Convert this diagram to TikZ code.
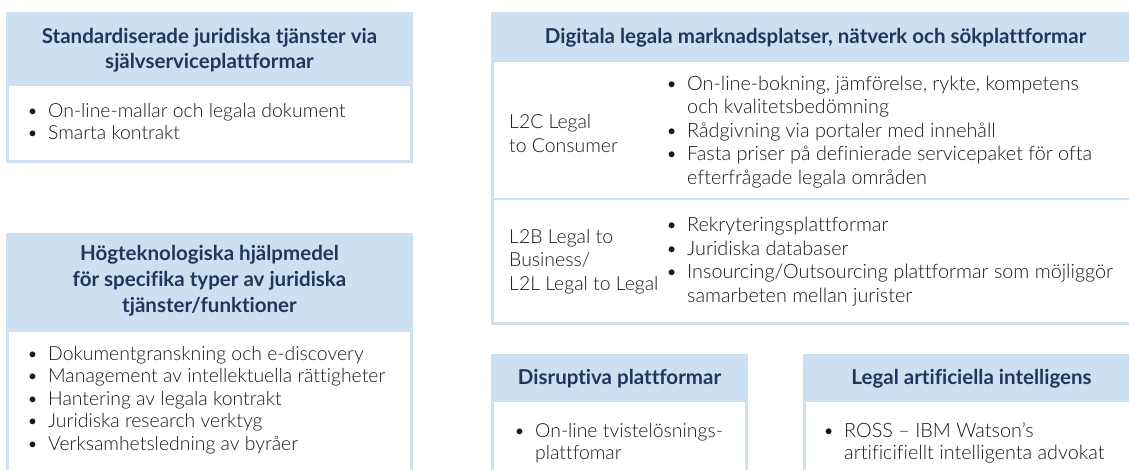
\documentclass[tikz,border=0pt]{standalone}
\usepackage{fontspec}
\setmainfont{Lato}[Ligatures=NoCommon]
\newfontfamily\lightfont{Lato Light}[Ligatures=NoCommon]
\newfontfamily\regfont{Lato}
\definecolor{hdr}{RGB}{204,224,242}
\definecolor{navy}{RGB}{30,55,90}
\definecolor{txt}{RGB}{25,25,25}
\newcommand\bul{\hspace*{-4pt}\makebox[20pt][l]{\raisebox{1pt}{\scalebox{0.8}{\regfont\textbullet}}}}
\newcommand\ind{\hspace*{16pt}}
\begin{document}
\begin{tikzpicture}[x=1pt,y=-1pt,
  frame/.style={draw=hdr,line width=3pt},
  sepline/.style={draw=hdr,line width=1.5pt},
  htext/.style={font=\fontsize{20.5}{25}\selectfont\bfseries, text=navy, align=center, inner sep=0},
  btext/.style={font=\lightfont\fontsize{19.4}{22.5}\selectfont, text=txt, align=left, inner sep=0, anchor=west},
  ctext/.style={font=\lightfont\fontsize{19.8}{23.5}\selectfont, text=txt, align=left, inner sep=0, anchor=west}]
\useasboundingbox (0,0) rectangle (1129,470);
% Box A
\fill[hdr] (6,12) rectangle (413,86);
\draw[frame] (7.5,13.5) rectangle (411.5,161.5);
\node[htext] (ah) at (209.5,50.5) {Standardiserade juridiska tjänster via\\självserviceplattformar};
\node[btext] (ab) at (32,121.5) {\bul On-line-mallar och legala dokument\\\bul Smarta kontrakt};
% Box B
\fill[hdr] (6,233) rectangle (413,332);
\draw[frame] (7.5,480) -- (7.5,234.5) -- (411.5,234.5) -- (411.5,480);
\node[htext,font=\fontsize{20.5}{26}\selectfont\bfseries] (bh) at (209.5,281) {Högteknologiska hjälpmedel\\för specifika typer av juridiska\\tjänster/funktioner};
\node[btext] (bb) at (32,400) {\bul Dokumentgranskning och e-discovery\\\bul Management av intellektuella rättigheter\\\bul Hantering av legala kontrakt\\\bul Juridiska research verktyg\\\bul Verksamhetsledning av byråer};
% Box C
\fill[hdr] (491,12) rectangle (1140,62);
\draw[frame] (1140,13.5) -- (492.5,13.5) -- (492.5,323.5) -- (1140,323.5);
\draw[sepline] (491,199) -- (1140,199);
\node[htext] (ch) at (815.5,37.5) {Digitala legala marknadsplatser, nätverk och sökplattformar};
\node[ctext,font=\lightfont\fontsize{19.4}{23.5}\selectfont] (cl1) at (509,133.5) {L2C Legal\\to Consumer};
\node[ctext] (cb1) at (671,132) {\bul On-line-bokning, jämförelse, rykte, kompetens\\\ind och kvalitetsbedömning\\\bul Rådgivning via portaler med innehåll\\\bul Fasta priser på definierade servicepaket för ofta\\\ind efterfrågade legala områden};
\node[ctext,font=\lightfont\fontsize{19.4}{23.5}\selectfont] (cl2) at (509,261.5) {L2B Legal to\\Business/\\L2L Legal to Legal};
\node[ctext] (cb2) at (671,261.5) {\bul Rekryteringsplattformar\\\bul Juridiska databaser\\\bul Insourcing/Outsourcing plattformar som möjliggör\\\ind samarbeten mellan jurister};
% Box D
\fill[hdr] (491,354) rectangle (748,402);
\draw[frame] (492.5,480) -- (492.5,355.5) -- (746.5,355.5) -- (746.5,480);
\node[htext] (dh) at (619.5,379) {Disruptiva plattformar};
\node[btext] (db) at (519,443) {\bul On-line tvistelösnings-\\\ind plattfomar};
% Box E
\fill[hdr] (803,354) rectangle (1140,402);
\draw[frame] (804.5,480) -- (804.5,355.5) -- (1140,355.5);
\node[htext] (eh) at (971.5,379) {Legal artificiella intelligens};
\node[btext,font=\lightfont\fontsize{19.8}{22.5}\selectfont] (eb) at (828,443) {\bul ROSS – IBM Watson’s\\\ind artificifiellt intelligenta advokat};
\end{tikzpicture}
\end{document}
